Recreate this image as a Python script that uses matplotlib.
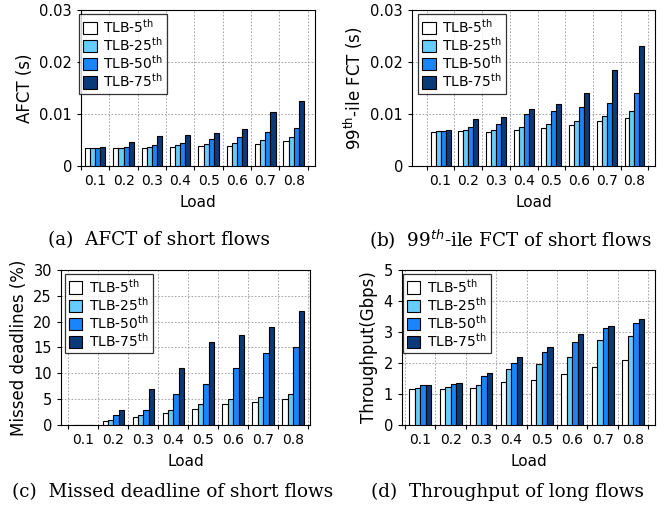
import numpy as np
import matplotlib
matplotlib.use("Agg")
from matplotlib import pyplot as plt
from matplotlib.patches import FancyBboxPatch
from matplotlib.legend_handler import HandlerPatch
from matplotlib.ticker import FuncFormatter

plt.rcParams['font.family'] = 'DejaVu Sans'

loads = ['0.1', '0.2', '0.3', '0.4', '0.5', '0.6', '0.7', '0.8']
series = ['TLB-5$^{\\mathrm{th}}$', 'TLB-25$^{\\mathrm{th}}$',
          'TLB-50$^{\\mathrm{th}}$', 'TLB-75$^{\\mathrm{th}}$']
colors = ['white', '#66ccfa', '#1a84fa', '#0b3a78']

# AFCT of short flows (s)
afct_5 = [0.0035, 0.0035, 0.0035, 0.0037, 0.0038, 0.0039, 0.0043, 0.0048]
afct_25 = [0.0035, 0.0035, 0.0036, 0.0040, 0.0042, 0.0045, 0.0050, 0.0055]
afct_50 = [0.0035, 0.0036, 0.0040, 0.0045, 0.0052, 0.0055, 0.0065, 0.0074]
afct_75 = [0.0036, 0.0046, 0.0057, 0.0059, 0.0064, 0.0072, 0.0103, 0.0125]

# 99th-ile FCT of short flows (s)
p99_5 = [0.0066, 0.0067, 0.0066, 0.0069, 0.0074, 0.0078, 0.0086, 0.0092]
p99_25 = [0.0067, 0.0069, 0.0070, 0.0075, 0.0080, 0.0086, 0.0096, 0.0105]
p99_50 = [0.0068, 0.0075, 0.0080, 0.0100, 0.0106, 0.0113, 0.0121, 0.0140]
p99_75 = [0.0069, 0.0090, 0.0095, 0.0110, 0.0120, 0.0140, 0.0185, 0.0230]

# missed deadlines (%)
miss_5 = [0.05, 0.7, 1.5, 2.4, 3.2, 4.1, 4.4, 5.0]
miss_25 = [0.05, 1.0, 2.0, 3.0, 4.0, 5.0, 5.5, 6.0]
miss_50 = [0.05, 2.0, 3.0, 6.0, 8.0, 11.0, 14.0, 15.0]
miss_75 = [0.05, 3.0, 7.0, 11.0, 16.0, 17.5, 19.0, 22.0]

# throughput of long flows (Gbps)
thr_5 = [1.15, 1.16, 1.18, 1.40, 1.45, 1.65, 1.86, 2.10]
thr_25 = [1.20, 1.22, 1.28, 1.80, 1.96, 2.20, 2.73, 2.86]
thr_50 = [1.28, 1.33, 1.59, 2.00, 2.35, 2.67, 3.12, 3.30]
thr_75 = [1.29, 1.35, 1.68, 2.19, 2.53, 2.93, 3.20, 3.41]


def round_patch(legend, orig_handle, xdescent, ydescent, width, height, fontsize):
    return FancyBboxPatch((-xdescent, -ydescent - 1.5), width, height + 3,
                          boxstyle="round,pad=0,rounding_size=3")


def draw(ax, data, ylim, yticks, ylabel, xlim, legx, fmt=None):
    ind = np.arange(len(loads))
    w = 0.18
    for k, vals in enumerate(data):
        ax.bar(ind + (k - 1.5) * w, vals, w, color=colors[k], edgecolor='black',
               linewidth=0.8, label=series[k], zorder=3)
    ax.set_xlim(*xlim)
    ax.set_ylim(*ylim)
    ax.set_yticks(yticks)
    if fmt:
        ax.yaxis.set_major_formatter(FuncFormatter(fmt))
    ax.set_xticks(np.arange(-0.5, len(loads), 1.0))
    ax.set_xticklabels([])
    ax.set_xticks(ind, minor=True)
    ax.set_xticklabels(loads, minor=True)
    ax.tick_params(axis='x', which='minor', length=0, pad=6)
    ax.tick_params(labelsize=10.5, direction='out', length=3)
    ax.grid(True, which='major', linestyle=(0, (2, 2)), color='#999999', linewidth=0.6, zorder=0)
    ax.set_ylabel(ylabel, fontsize=12)
    ax.set_xlabel('Load', fontsize=11, labelpad=5)
    leg = ax.legend(loc='upper left', bbox_to_anchor=(legx, 1.0), fancybox=False,
                    edgecolor='black', fontsize=10, handlelength=1.0,
                    handleheight=1.0, labelspacing=0.02, borderpad=0.25,
                    handletextpad=0.5, borderaxespad=0.3,
                    handler_map={matplotlib.patches.Rectangle: HandlerPatch(patch_func=round_patch)})
    leg.get_frame().set_linewidth(0.9)
    leg.set_zorder(5)


fig = plt.figure(figsize=(6.7, 5.14), dpi=100)
ax1 = fig.add_axes([0.121, 0.677, 0.349, 0.3035])
ax2 = fig.add_axes([0.615, 0.677, 0.363, 0.3035])
ax3 = fig.add_axes([0.091, 0.173, 0.372, 0.302])
ax4 = fig.add_axes([0.600, 0.173, 0.378, 0.302])

zero_fmt = lambda v, p: '0' if v == 0 else '%.2f' % v
draw(ax1, [afct_5, afct_25, afct_50, afct_75], (0, 0.03), [0, 0.01, 0.02, 0.03],
     'AFCT (s)', (-0.5, 7.75), -0.026, zero_fmt)
draw(ax2, [p99_5, p99_25, p99_50, p99_75], (0, 0.03), [0, 0.01, 0.02, 0.03],
     '99$^{\\mathrm{th}}$-ile FCT (s)', (-1.03, 7.75), 0.008, zero_fmt)
draw(ax3, [miss_5, miss_25, miss_50, miss_75], (0, 30), [0, 5, 10, 15, 20, 25, 30],
     'Missed deadlines (%)', (-0.75, 7.57), 0.0)
draw(ax4, [thr_5, thr_25, thr_50, thr_75], (0, 5), [0, 1, 2, 3, 4, 5],
     'Throughput(Gbps)', (-0.6, 7.73), -0.012)

cap = dict(fontsize=13.2, family='DejaVu Serif', ha='center', va='center')
fig.text(0.238, 0.533, '(a)  AFCT of short flows', **cap)
fig.text(0.761, 0.533, '(b)  99$^{th}$-ile FCT of short flows', **cap)
fig.text(0.258, 0.043, '(c)  Missed deadline of short flows', **cap)
fig.text(0.757, 0.043, '(d)  Throughput of long flows', **cap)

fig.savefig('out.png', dpi=100)
